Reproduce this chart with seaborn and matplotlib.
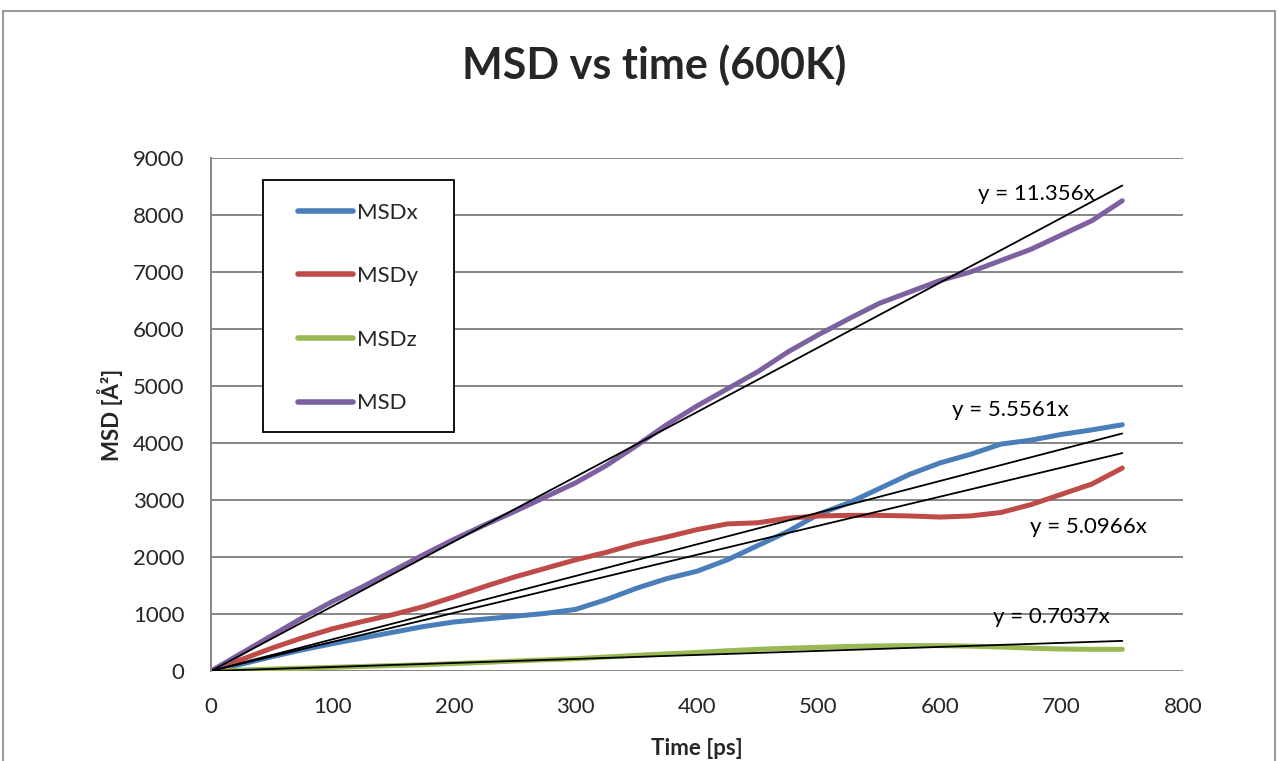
import numpy as np
import pandas as pd
import matplotlib
matplotlib.use("Agg")
import matplotlib.pyplot as plt
import seaborn as sns
from matplotlib.patches import Rectangle

# time axis [ps]
time = [0, 25, 50, 75, 100, 125, 150, 175, 200, 225, 250, 275, 300, 325, 350,
        375, 400, 425, 450, 475, 500, 525, 550, 575, 600, 625, 650, 675, 700,
        725, 750]

msd_x = [0, 120, 250, 370, 480, 580, 680, 780, 860, 910, 960, 1010, 1080, 1250,
         1450, 1620, 1750, 1950, 2200, 2450, 2750, 2950, 3200, 3450, 3650, 3800,
         3980, 4050, 4150, 4230, 4320]
msd_y = [0, 200, 400, 580, 740, 870, 990, 1130, 1300, 1480, 1650, 1800, 1950,
         2080, 2230, 2350, 2480, 2580, 2600, 2680, 2720, 2730, 2730, 2720, 2700,
         2720, 2780, 2920, 3100, 3280, 3560]
msd_z = [0, 15, 35, 50, 65, 80, 95, 110, 130, 150, 175, 195, 215, 245, 275, 300,
         325, 355, 380, 400, 415, 430, 440, 445, 445, 435, 420, 400, 385, 380, 380]
msd = [0, 310, 620, 930, 1220, 1480, 1760, 2040, 2310, 2560, 2800, 3050, 3300,
       3600, 3950, 4320, 4650, 4950, 5250, 5600, 5900, 6180, 6450, 6650, 6850,
       7000, 7200, 7400, 7650, 7900, 8250]

series_names = ["MSDx", "MSDy", "MSDz", "MSD"]
series_colors = ["#4A7EBB", "#BE4B48", "#98B954", "#7D60A0"]

# linear fits (through origin) shown by Excel
fit_slopes = [11.356, 5.5561, 5.0966, 0.7037]
fit_labels = ["y = 11.356x", "y = 5.5561x", "y = 5.0966x", "y = 0.7037x"]
fit_label_pos = [(679, 8370), (658, 4580), (722, 2520), (692, 947)]

df = pd.DataFrame({"time": time, "MSDx": msd_x, "MSDy": msd_y,
                   "MSDz": msd_z, "MSD": msd})
long_df = df.melt(id_vars="time", var_name="series", value_name="value")

sns.set_style("white")
plt.rcParams["font.family"] = ["Lato", "DejaVu Sans"]
FS = 16

fig = plt.figure(figsize=(12.78, 7.61), dpi=100)
ax = fig.add_axes([0.1651, 0.1183, 0.7606, 0.6741])

sns.lineplot(data=long_df, x="time", y="value", hue="series",
             hue_order=series_names, palette=series_colors, linewidth=3.6,
             ax=ax, legend=True, solid_capstyle="round", solid_joinstyle="round")

t_fit = np.array([0, 750])
for s in fit_slopes:
    sns.lineplot(x=t_fit, y=s * t_fit, color="black", linewidth=1.3, ax=ax,
                 legend=False)

for lab, (tx, ty) in zip(fit_labels, fit_label_pos):
    ax.text(tx, ty, lab, fontsize=FS, ha="center", va="center", color="black",
            zorder=6)

ax.set_xlim(0, 800)
ax.set_ylim(0, 9000)
ax.set_xticks(range(0, 801, 100))
ax.set_yticks(range(0, 9001, 1000))
ax.yaxis.grid(True, color="#868686", linewidth=1.4)
ax.set_axisbelow(True)
for side in ["top", "right", "bottom"]:
    ax.spines[side].set_visible(False)
ax.spines["left"].set_color("#868686")
ax.spines["left"].set_linewidth(1.4)
ax.tick_params(axis="both", length=0, labelsize=FS)
ax.tick_params(axis="x", pad=19)
ax.tick_params(axis="y", pad=19)

ax.set_xlabel("Time [ps]", fontsize=FS, fontweight="bold", labelpad=15)
ax.set_ylabel("MSD [Å²]", fontsize=FS, fontweight="bold", labelpad=7)

fig.text(0.512, 0.9146, "MSD vs time (600K)", fontsize=31, fontweight="bold",
         ha="center", va="center")

# legend box drawn like Excel's
ax.add_patch(Rectangle((0.0535, 0.4659), 0.1965, 0.4912, transform=ax.transAxes,
                       facecolor="white", edgecolor="black", linewidth=1.3,
                       zorder=4))
leg = ax.legend(loc="upper left", bbox_to_anchor=(0.0895, 0.913),
                fontsize=FS, handlelength=2.48, labelspacing=1.96, borderpad=0,
                handletextpad=0.18, frameon=False, borderaxespad=0)
leg.set_zorder(5)
for line in leg.get_lines():
    line.set_linewidth(4)
    line.set_solid_capstyle("round")

fig.patches.append(Rectangle((3 / 1278, -0.05), 1272 / 1278, 1.05 - 11 / 761,
                             transform=fig.transFigure, fill=False,
                             edgecolor="#868686", linewidth=1.2))

fig.savefig("out.png", dpi=100)
